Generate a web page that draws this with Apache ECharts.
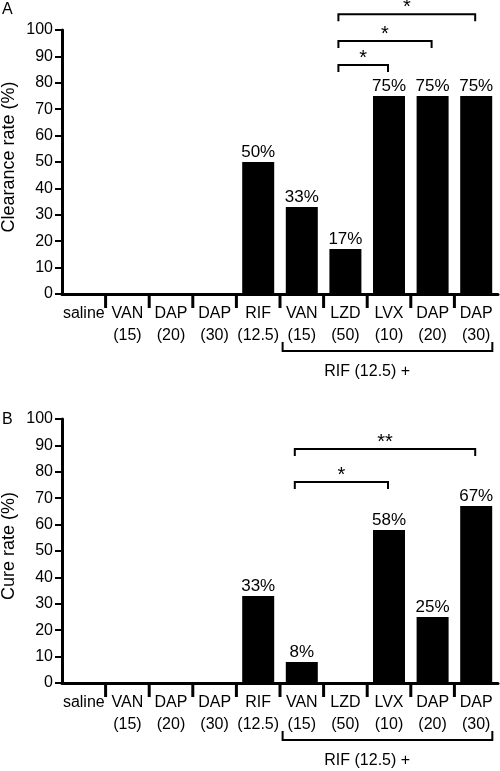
<!DOCTYPE html>
<html><head><meta charset="utf-8">
<script src="https://cdn.jsdelivr.net/npm/echarts@6/dist/echarts.min.js"></script>
<style>html,body{margin:0;padding:0;background:#fff}#c{width:500px;height:771px}</style>
</head><body><div id="c"></div>
<script>
const categories = ['saline\n ', 'VAN\n(15)', 'DAP\n(20)', 'DAP\n(30)', 'RIF\n(12.5)', 'VAN\n(15)', 'LZD\n(50)', 'LVX\n(10)', 'DAP\n(20)', 'DAP\n(30)'];
const clearanceRate = [0, 0, 0, 0, 50, 33, 17, 75, 75, 75];
const cureRate = [0, 0, 0, 0, 33, 8, 0, 58, 25, 67];
const yTicks = {min: 0, max: 100, interval: 10};
const yNames = ['Clearance rate (%)', 'Cure rate (%)'];
const groupLabel = 'RIF (12.5) +';
const groupRange = [5, 9];
// significance: [fromIndex, toIndex, level (in % units), label]
const sigA = [[6, 7, 86.7, '*'], [6, 8, 95.8, '*'], [6, 9, 106, '*']];
const sigB = [[5, 7, 76.1, '*'], [5, 9, 88.6, '**']];

const FONT = '"Liberation Sans", Arial, sans-serif';
const chart = echarts.init(document.getElementById('c'), null, {renderer: 'canvas'});

function sigRender(list) {
  return function (params, api) {
    const d = list[params.dataIndex];
    const a = api.coord([d[0], d[2]]);
    const b = api.coord([d[1], d[2]]);
    const x1 = a[0] - 7, x2 = b[0] - 1, y = a[1];
    return {type: 'group', children: [
      {type: 'polyline', shape: {points: [[x1, y + 7], [x1, y], [x2, y], [x2, y + 7]]},
        style: {stroke: '#000', lineWidth: 2, fill: null}},
      {type: 'text', x: (x1 + x2) / 2, y: y + 3,
        style: {text: d[3], textAlign: 'center', textVerticalAlign: 'bottom', font: '20px ' + FONT, fill: '#000'}}
    ]};
  };
}
function axisDecorRender(nameText) {
  return function (params, api) {
    const n = categories.length;
    const y0 = api.coord([0, 0])[1];
    const yTop = api.coord([0, 100])[1];
    const xLeft = api.coord([0, 0])[0] - api.size([1, 0])[0] / 2;
    const children = [];
    // category boundary ticks (inner boundaries only)
    for (let i = 1; i < n; i++) {
      const x = (api.coord([i - 1, 0])[0] + api.coord([i, 0])[0]) / 2;
      children.push({type: 'line', shape: {x1: x, y1: y0, x2: x, y2: y0 + 14},
        style: {stroke: '#000', lineWidth: 3}});
    }
    const a = api.coord([groupRange[0], 0]);
    const b = api.coord([groupRange[1], 0]);
    const w = api.size([1, 0])[0];
    const x1 = a[0] - w * 0.44, x2 = b[0] + w * 0.37, y = y0 + 57;
    const m1 = api.coord([6, 0])[0], m2 = api.coord([7, 0])[0];
    children.push({type: 'polyline', shape: {points: [[x1, y - 9], [x1, y], [x2, y], [x2, y - 9]]},
      style: {stroke: '#000', lineWidth: 2, fill: null}});
    children.push({type: 'text', x: (m1 + m2) / 2, y: y + 21,
      style: {text: groupLabel, textAlign: 'center', textVerticalAlign: 'middle', font: '16px ' + FONT, fill: '#000'}});
    // y-axis title
    children.push({type: 'text', x: xLeft - 53, y: (y0 + yTop) / 2 - 5, rotation: Math.PI / 2,
      style: {text: nameText, textAlign: 'center', textVerticalAlign: 'middle', font: '18px ' + FONT, fill: '#000'}});
    return {type: 'group', children: children};
  };
}

function xAxisCfg(gi) {
  return {
    type: 'category', gridIndex: gi, data: categories,
    axisLine: {show: true, lineStyle: {color: '#000', width: 3}},
    axisTick: {show: false},
    axisLabel: {interval: 0, color: '#000', fontSize: 16, fontFamily: FONT, lineHeight: 22, margin: 9}
  };
}
function yAxisCfg(gi) {
  return {
    type: 'value', gridIndex: gi, min: yTicks.min, max: yTicks.max, interval: yTicks.interval,
    axisLine: {show: true, lineStyle: {color: '#000', width: 3}},
    axisTick: {show: true, length: 7, lineStyle: {color: '#000', width: 2}},
    axisLabel: {color: '#000', fontSize: 16, fontFamily: FONT, margin: 9},
    splitLine: {show: false}
  };
}
function barSeries(gi, data) {
  return {
    type: 'bar', xAxisIndex: gi, yAxisIndex: gi, data: data, barWidth: 32,
    itemStyle: {color: '#000'},
    label: {show: true, position: 'top', distance: 1, color: '#000', fontSize: 17, fontFamily: FONT,
      formatter: p => p.value > 0 ? p.value + '%' : ''}
  };
}

chart.setOption({
  animation: false,
  grid: [
    {left: 62, right: 2, top: 30, height: 264, containLabel: false, outerBoundsMode: 'none'},
    {left: 62, right: 2, top: 419, height: 264, containLabel: false, outerBoundsMode: 'none'}
  ],
  xAxis: [xAxisCfg(0), xAxisCfg(1)],
  yAxis: [yAxisCfg(0), yAxisCfg(1)],
  graphic: [
    {type: 'text', left: 2, top: 2, style: {text: 'A', font: '16px ' + FONT, fill: '#000'}},
    {type: 'text', left: 2, top: 412, style: {text: 'B', font: '16px ' + FONT, fill: '#000'}}
  ],
  series: [
    barSeries(0, clearanceRate),
    barSeries(1, cureRate),
    {type: 'custom', xAxisIndex: 0, yAxisIndex: 0, clip: false, silent: true,
      data: sigA.map(d => [d[0], d[1], d[2]]), encode: {x: [0, 1], y: 2}, renderItem: sigRender(sigA)},
    {type: 'custom', xAxisIndex: 1, yAxisIndex: 1, clip: false, silent: true,
      data: sigB.map(d => [d[0], d[1], d[2]]), encode: {x: [0, 1], y: 2}, renderItem: sigRender(sigB)},
    {type: 'custom', xAxisIndex: 0, yAxisIndex: 0, clip: false, silent: true,
      data: [[groupRange[0], 0]], renderItem: axisDecorRender(yNames[0])},
    {type: 'custom', xAxisIndex: 1, yAxisIndex: 1, clip: false, silent: true,
      data: [[groupRange[0], 0]], renderItem: axisDecorRender(yNames[1])}
  ]
});
</script></body></html>
